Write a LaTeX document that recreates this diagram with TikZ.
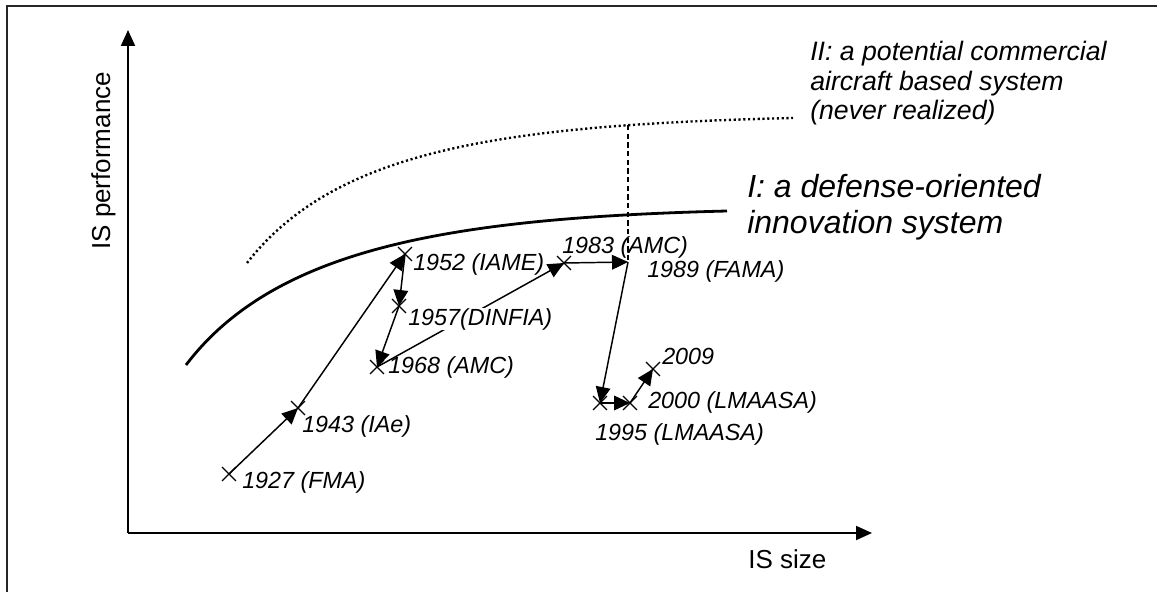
\documentclass[tikz,border=0pt]{standalone}
\usepackage{fontspec}
\setmainfont{Liberation Sans}
\usetikzlibrary{arrows.meta,shapes.misc}
\begin{document}
\begin{tikzpicture}[x=0.75pt,y=-0.75pt,
  arrtip/.style={-{Triangle[length=12pt,width=11pt]}},
  conn/.style={arrtip, line width=1.1pt},
  axisline/.style={line width=1.5pt, -{Triangle[length=12pt,width=10.5pt]}},
  xmark/.style={draw, cross out, inner sep=0pt, minimum size=9.5pt, line width=0.9pt},
  lbl/.style={font=\fontsize{17.5}{20}\selectfont\itshape, anchor=base west, inner sep=0pt},
  axlbl/.style={font=\fontsize{19.5}{22}\selectfont, anchor=base west, inner sep=0pt},
  biglbl/.style={font=\fontsize{24}{28}\selectfont\itshape, anchor=base west, inner sep=0pt},
  midlbl/.style={font=\fontsize{20}{23}\selectfont\itshape, anchor=base west, inner sep=0pt}
]
\useasboundingbox (0,0) rectangle (1157,592);
% frame
\coordinate (fbl) at (7,592);
\coordinate (ftl) at (7,6);
\coordinate (ftr) at (1157,6);
\draw[line width=1.3pt, black!85] (fbl) -- (ftl) -- (ftr);

% axes
\coordinate (origin) at (128,533);
\coordinate (ytop) at (128,30);
\coordinate (xend) at (872,533);
\draw[axisline] (origin) -- (ytop);
\draw[axisline] (origin) -- (xend);
\node[axlbl] (xlab) at (748,568) {IS size};
\node[axlbl, rotate=90] (ylab) at (110,250) {IS performance};

% curves
\coordinate (c1s) at (186,365);
\coordinate (c1e) at (727,211);
\draw[line width=2.1pt] (c1s) .. controls (275,248) and (450,218) .. (c1e);
\coordinate (c2s) at (247,263);
\coordinate (c2e) at (793,118);
\draw[line width=1.8pt, dash pattern=on 1.6pt off 2pt] (c2s) .. controls (335,150) and (500,125) .. (c2e);

% points
\node[xmark] (p1927) at (229,474) {};
\node[xmark] (p1943) at (298,408) {};
\node[xmark] (p1952) at (405,254) {};
\node[xmark] (p1957) at (399,306) {};
\node[xmark] (p1968) at (377,367) {};
\node[xmark] (p1983) at (564,263) {};
\coordinate (p1989) at (628,262);
\node[xmark] (p1995) at (600,403) {};
\node[xmark] (p2000) at (630,403) {};
\node[xmark] (p2009) at (653,369) {};

% dashed link to curve II
\coordinate (dtop) at (628,125);
\draw[line width=0.8pt, dash pattern=on 4pt off 2.5pt] (dtop) -- (p1989);

% connectors
\draw[conn] (p1927.center) -- (p1943.center);
\draw[conn] (p1943.center) -- (p1952.center);
\draw[conn] (p1952.center) -- (p1957.center);
\draw[conn] (p1957.center) -- (p1968.center);
\draw[conn] (p1968.center) -- (p1983.center);
\draw[conn] (p1983.center) -- (p1989);
\draw[conn] (p1989) -- (p1995.center);
\draw[conn] (p1995.center) -- (p2000.center);
\draw[conn] (p2000.center) -- (p2009.center);

% labels
\node[lbl] (l1927) at (242,488) {1927 (FMA)};
\node[lbl] (l1943) at (302,432) {1943 (IAe)};
\node[lbl] (l1952) at (413,270) {1952 (IAME)};
\node[lbl, fill=white] (l1957) at (408,325) {1957(DINFIA)};
\node[lbl] (l1968) at (388,373) {1968 (AMC)};
\node[lbl] (l1983) at (562,253) {1983 (AMC)};
\node[lbl] (l1989) at (647,277) {1989 (FAMA)};
\node[lbl] (l1995) at (595,440) {1995 (LMAASA)};
\node[lbl] (l2000) at (648,408) {2000 (LMAASA)};
\node[lbl] (l2009) at (662,364) {2009};

\node[biglbl] (lI1) at (747,197) {I: a defense-oriented};
\node[biglbl] (lI2) at (747,233) {innovation system};
\node[midlbl] (lII1) at (810,61) {II: a potential commercial};
\node[midlbl] (lII2) at (810,90) {aircraft based system};
\node[midlbl] (lII3) at (810,119) {(never realized)};
\end{tikzpicture}
\end{document}
